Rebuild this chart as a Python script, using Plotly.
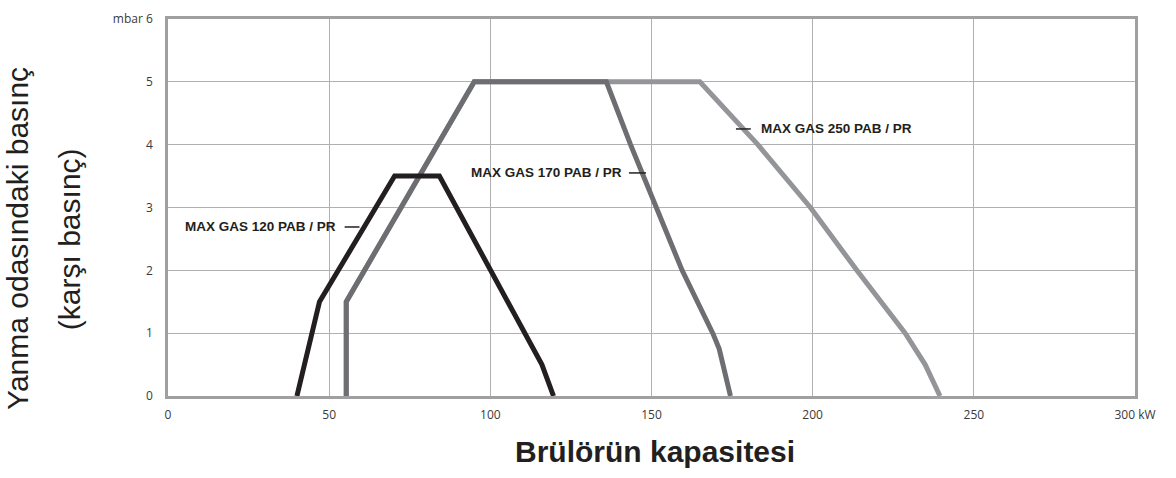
import plotly.graph_objects as go

# Data
x_120 = [40, 47, 70.3, 84.2, 116, 119.6]
y_120 = [0, 1.5, 3.5, 3.5, 0.5, 0]

x_170 = [55.3, 55.3, 95, 136, 143.5, 151.3, 159.5, 169, 171, 174.5]
y_170 = [0, 1.5, 5, 5, 4, 3, 2, 1, 0.75, 0]

x_250 = [55.3, 55.3, 95, 165, 183, 199.3, 213.7, 228.7, 234.9, 239.5]
y_250 = [0, 1.5, 5, 5, 4, 3, 2, 1, 0.5, 0]

x_ticks = [0, 50, 100, 150, 200, 250, 300]
x_ticktext = ["0", "50", "100", "150", "200", "250", "300 kW"]
y_ticks = [0, 1, 2, 3, 4, 5, 6]
y_ticktext = ["0", "1", "2", "3", "4", "5", "mbar 6"]

series_labels = ["MAX GAS 120 PAB / PR", "MAX GAS 170 PAB / PR", "MAX GAS 250 PAB / PR"]
label_x = [52.6, 141.5, 183.3]
label_y = [2.69, 3.55, 4.25]
label_anchor = ["right", "right", "left"]
leader_x0 = [54.8, 143.0, 176.2]
leader_x1 = [59.4, 148.3, 180.8]

C_BLACK = "#231f20"
C_DARK = "#6d6e71"
C_LIGHT = "#939598"

fig = go.Figure()
fig.add_trace(go.Scatter(x=x_250, y=y_250, mode="lines",
                         line=dict(color=C_LIGHT, width=5), showlegend=False))
fig.add_trace(go.Scatter(x=x_170, y=y_170, mode="lines",
                         line=dict(color=C_DARK, width=5), showlegend=False))
fig.add_trace(go.Scatter(x=x_120, y=y_120, mode="lines",
                         line=dict(color=C_BLACK, width=5), showlegend=False))

label_font = dict(family="Liberation Sans Narrow, Arial Narrow, Liberation Sans, Arial",
                  size=13.5, color="#231f20")
for t, lx, ly, anc, a0, a1 in zip(series_labels, label_x, label_y, label_anchor,
                                   leader_x0, leader_x1):
    fig.add_annotation(x=lx, y=ly, xref="x", yref="y", text="<b>%s</b>" % t,
                       showarrow=False, xanchor=anc, yanchor="middle", font=label_font)
    fig.add_shape(type="line", xref="x", yref="y", x0=a0, x1=a1, y0=ly, y1=ly,
                  line=dict(color="#231f20", width=1.5))

title_font = dict(family="Liberation Sans, Arial", size=30, color="#231f20")
fig.add_annotation(x=-0.155, y=0.417, xref="paper", yref="paper",
                   text="Yanma odasındaki basınç", textangle=-90, showarrow=False,
                   xanchor="center", yanchor="middle", font=title_font)
fig.add_annotation(x=-0.102, y=0.417, xref="paper", yref="paper",
                   text="(karşı basınç)", textangle=-90, showarrow=False,
                   xanchor="center", yanchor="middle", font=title_font)
fig.add_annotation(x=0.5036, y=-0.148, xref="paper", yref="paper",
                   text="<b>Brülörün kapasitesi</b>", showarrow=False,
                   xanchor="center", yanchor="middle",
                   font=dict(family="Liberation Sans, Arial", size=30, color="#231f20"))

tick_font = dict(family="Open Sans, DejaVu Sans", size=12, color="#3a3a3a")
fig.update_xaxes(range=[0, 300], tickvals=x_ticks, ticktext=x_ticktext,
                 showgrid=True, gridcolor="#b0b0b0", gridwidth=1.3,
                 showline=True, mirror=True, linecolor="#a0a0a0", linewidth=2.5,
                 zeroline=False, ticks="", tickfont=tick_font, ticklabelstandoff=6,
                 fixedrange=True)
fig.update_yaxes(range=[0, 6], tickvals=y_ticks, ticktext=y_ticktext,
                 showgrid=True, gridcolor="#b0b0b0", gridwidth=1.3,
                 showline=True, mirror=True, linecolor="#a0a0a0", linewidth=2.5,
                 zeroline=False, ticks="", tickfont=tick_font, ticklabelstandoff=10,
                 fixedrange=True)

fig.update_layout(width=1176, height=478, margin=dict(l=168, r=41, t=10, b=82),
                  plot_bgcolor="white", paper_bgcolor="white", showlegend=False)

fig.write_html("out.html", config={"displayModeBar": False},
               post_script="document.body.style.margin='0';document.body.style.overflow='hidden';")
